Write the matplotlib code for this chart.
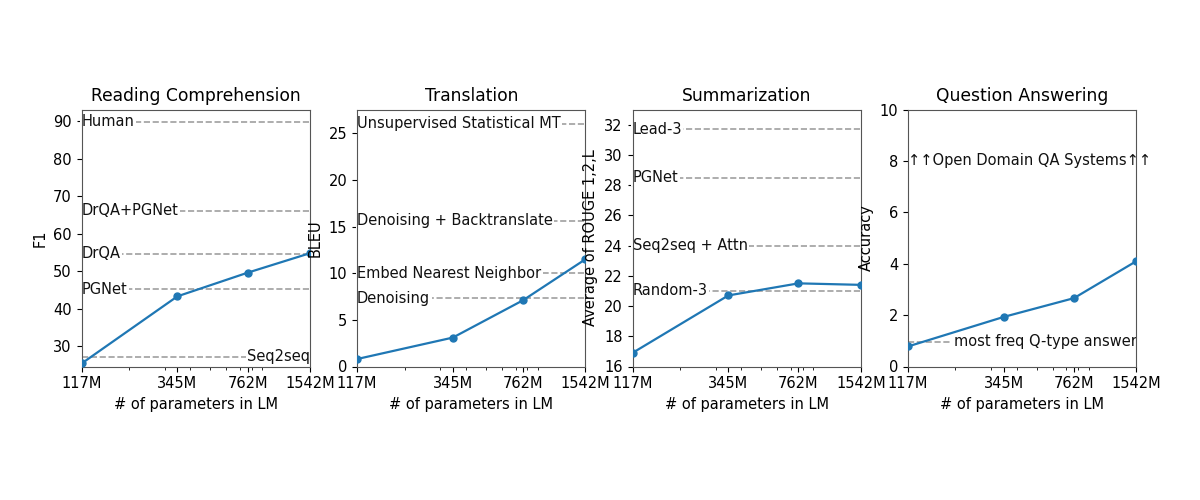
import numpy as np
import matplotlib
matplotlib.use("Agg")
import matplotlib.pyplot as plt
from matplotlib.ticker import NullFormatter

# model sizes (millions of parameters)
PARAMS = [117, 345, 762, 1542]
PARAM_LABELS = ["117M", "345M", "762M", "1542M"]

# reading comprehension (CoQA F1)
rc_scores = [25.4, 43.3, 49.6, 54.8]
rc_baselines = ["Human", "DrQA+PGNet", "DrQA", "PGNet", "Seq2seq"]
rc_values = [89.9, 66.1, 54.6, 45.2, 27.2]

# translation (BLEU)
tr_scores = [0.8, 3.1, 7.1, 11.5]
tr_baselines = ["Unsupervised Statistical MT", "Denoising + Backtranslate",
                "Embed Nearest Neighbor", "Denoising"]
tr_values = [26.0, 15.6, 10.0, 7.3]

# summarization (avg ROUGE)
su_scores = [16.9, 20.7, 21.5, 21.4]
su_baselines = ["Lead-3", "PGNet", "Seq2seq + Attn", "Random-3"]
su_values = [31.7, 28.5, 24.0, 21.0]
su_ticks = [16, 18, 20, 22, 24, 26, 28, 30, 32]

# question answering (accuracy)
qa_scores = [0.78, 1.93, 2.66, 4.1]
qa_baselines = ["most freq Q-type answer"]
qa_values = [0.97]

LINE_COLOR = "#1f77b4"
DASH_COLOR = "#a0a0a0"
TXT = 10.5


def baseline(ax, name, value, side="left"):
    ax.axhline(value, color=DASH_COLOR, linestyle="--", linewidth=1.2, zorder=1)
    if side == "left":
        x, ha = 0.0, "left"
    else:
        x, ha = 1.0, "right"
    ax.text(x, value, name, transform=ax.get_yaxis_transform(), ha=ha, va="center",
            fontsize=TXT, color="#111111", zorder=2,
            bbox=dict(facecolor="white", edgecolor="none", pad=1.0))


def setup(ax, title, ylabel, ylim):
    ax.set_xscale("log")
    ax.set_xlim(PARAMS[0], PARAMS[-1])
    ax.set_xticks(PARAMS)
    ax.set_xticklabels(PARAM_LABELS)
    ax.xaxis.set_minor_formatter(NullFormatter())
    ax.set_ylim(*ylim)
    ax.set_title(title, fontsize=12.3)
    ax.set_ylabel(ylabel, fontsize=TXT)
    ax.set_xlabel("# of parameters in LM", fontsize=TXT)
    ax.tick_params(labelsize=TXT)
    for s in ax.spines.values():
        s.set_color("#555555")


fig, axes = plt.subplots(1, 4, figsize=(12, 5), dpi=100)
fig.subplots_adjust(left=0.068, right=0.947, top=0.781, bottom=0.267, wspace=0.206)

# reading comprehension
ax = axes[0]
setup(ax, "Reading Comprehension", "F1", (24.6, 93.1))
for n, v in zip(rc_baselines, rc_values):
    baseline(ax, n, v, side="right" if n == "Seq2seq" else "left")
ax.plot(PARAMS, rc_scores, marker="o", color=LINE_COLOR, linewidth=1.6, markersize=5, zorder=3)

# translation
ax = axes[1]
setup(ax, "Translation", "BLEU", (0, 27.55))
for n, v in zip(tr_baselines, tr_values):
    baseline(ax, n, v)
ax.plot(PARAMS, tr_scores, marker="o", color=LINE_COLOR, linewidth=1.6, markersize=5, zorder=3)

# summarization
ax = axes[2]
setup(ax, "Summarization", "Average of ROUGE 1,2,L", (16, 33))
ax.set_yticks(su_ticks)
for n, v in zip(su_baselines, su_values):
    baseline(ax, n, v)
ax.plot(PARAMS, su_scores, marker="o", color=LINE_COLOR, linewidth=1.6, markersize=5, zorder=3)

# question answering
ax = axes[3]
setup(ax, "Question Answering", "Accuracy", (0, 10))
for n, v in zip(qa_baselines, qa_values):
    baseline(ax, n, v, side="right")
ax.text(0.0, 8, "\u2191\u2191Open Domain QA Systems\u2191\u2191", transform=ax.get_yaxis_transform(),
        ha="left", va="center", fontsize=TXT, color="#111111")
ax.plot(PARAMS, qa_scores, marker="o", color=LINE_COLOR, linewidth=1.6, markersize=5, zorder=3)

fig.savefig("out.png", dpi=100)
